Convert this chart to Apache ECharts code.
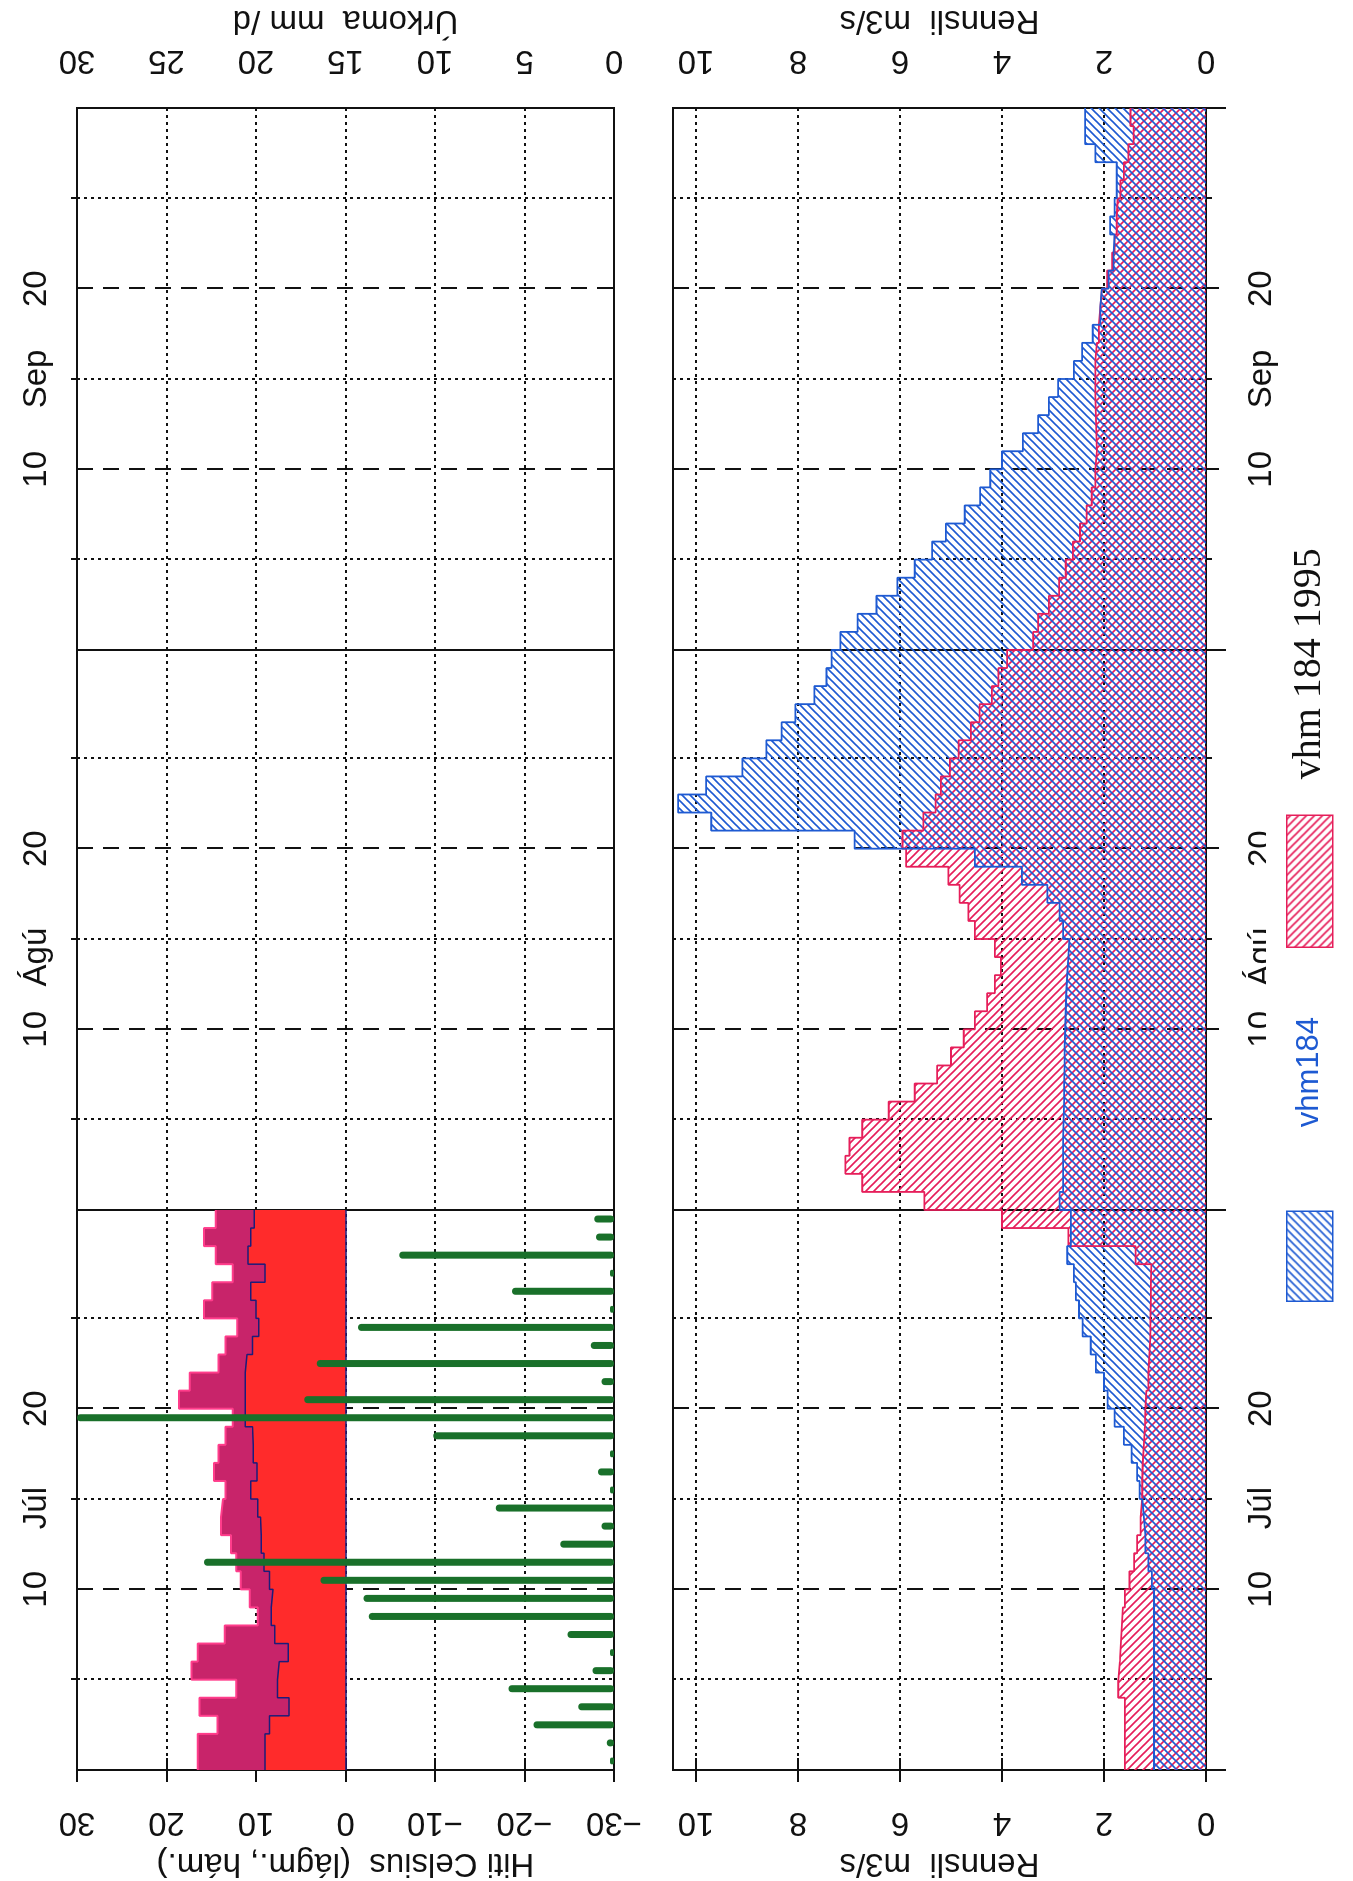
<!DOCTYPE html>
<html>
<head>
<meta charset="utf-8">
<script src="https://cdn.jsdelivr.net/npm/echarts@6/dist/echarts.min.js"></script>
<style>
  html, body { margin: 0; padding: 0; background: #fff; overflow: hidden; }
  /* the chart is laid out landscape and turned a quarter left, like the scanned page */
  #chart {
    position: absolute; left: 0; top: 0;
    width: 1881px; height: 1353px;
    transform-origin: 0 0;
    transform: translateY(1881px) rotate(-90deg);
  }
</style>
</head>
<body>
<div id="chart"></div>
<script>
// time in days from 1 July (0) to 1 October (92)
const monthLines = [0, 31, 62, 92];
const tenDayLines = [10, 20, 41, 51, 72, 82];
const fiveDayLines = [5, 15, 25, 36, 46, 56, 67, 77, 87];
const timeLabelPos = [10, 14.5, 20, 41, 45, 51, 72, 77, 82];
const timeLabels = ['10', 'Júl', '20', '10', 'Ágú', '20', '10', 'Sep', '20'];
const rennsliTicks = [0, 2, 4, 6, 8, 10];

// júlí: lágmarks- og hámarkshiti (°C) og úrkoma (mm/d)
const tempMin = [9.0, 9.0, 8.5, 6.3, 7.6, 7.4, 6.4, 7.9, 8.3, 8.1, 8.5, 9.1, 9.4, 9.5, 9.8,
  10.6, 9.9, 10.3, 10.4, 11.2, 11.2, 11.2, 11.0, 10.4, 9.7, 10.0, 10.6, 9.0, 10.9, 10.6, 10.2];
const tempMax = [16.5, 16.5, 14.3, 16.3, 12.2, 17.2, 16.5, 13.5, 9.8, 10.7, 11.7, 12.2, 12.8, 13.9, 13.7,
  13.4, 14.7, 14.2, 13.4, 12.6, 18.6, 17.4, 14.2, 13.4, 12.1, 15.8, 14.9, 12.6, 14.5, 15.8, 14.5];
const urkoma = [0, 0.4, 4.5, 2.0, 5.9, 1.2, 0, 2.6, 13.7, 14.0, 16.4, 22.9, 3.0, 0.7, 6.6,
  0, 0.9, 0, 10.1, 30.5, 17.3, 0.7, 16.6, 1.3, 14.3, 0, 5.7, 0, 12.0, 1.0, 1.1];

// rennsli m3/s, 1. júlí - 30. sept
const vhm184 = [1.02, 1.02, 1.02, 1.02, 1.02, 1.02, 1.02, 1.02, 1.02, 1.02, 1.06, 1.13, 1.19, 1.22, 1.25,
  1.30, 1.35, 1.46, 1.61, 1.79, 1.93, 2.00, 2.16, 2.26, 2.42, 2.49, 2.55, 2.59, 2.72, 2.65, 2.65,
  2.87, 2.80, 2.80, 2.80, 2.79, 2.78, 2.78, 2.77, 2.77, 2.76, 2.75, 2.74, 2.72, 2.70, 2.68,
  2.80, 2.87, 3.11, 3.61, 4.53, 6.89, 9.70, 10.35, 9.80, 9.09, 8.62, 8.32, 8.05, 7.68, 7.44, 7.34,
  7.17, 6.83, 6.46, 6.05, 5.71, 5.37, 5.10, 4.73, 4.43, 4.23, 4.00, 3.59, 3.29, 3.08, 2.90,
  2.59, 2.43, 2.22, 2.07, 2.04, 1.91, 1.81, 1.79, 1.88, 1.79, 1.75, 1.75, 2.17, 2.37, 2.37];
const vhm184_1995 = [1.59, 1.59, 1.59, 1.59, 1.72, 1.69, 1.67, 1.65, 1.63, 1.59, 1.50, 1.41, 1.35, 1.28, 1.25,
  1.25, 1.24, 1.22, 1.20, 1.19, 1.17, 1.13, 1.11, 1.09, 1.09, 1.08, 1.08, 1.07, 1.38, 2.70, 4.00,
  5.52, 6.74, 7.07, 6.99, 6.74, 6.22, 5.71, 5.27, 5.00, 4.75, 4.53, 4.29, 4.14, 4.02, 4.14,
  4.53, 4.66, 4.83, 5.05, 5.88, 5.95, 5.54, 5.30, 5.20, 5.02, 4.85, 4.61, 4.44, 4.20, 4.07, 3.90,
  3.39, 3.29, 3.08, 2.88, 2.75, 2.61, 2.47, 2.34, 2.24, 2.17, 2.14, 2.15, 2.16, 2.17, 2.17,
  2.17, 2.14, 2.10, 2.07, 2.04, 1.94, 1.84, 1.79, 1.75, 1.73, 1.68, 1.61, 1.52, 1.42, 1.48];

const ink = '#111';
const blue = '#1e5ad2';
const red = '#e61e5a';
const sans = 'Liberation Sans';

// daily values -> step points, last day held to its end
const stepData = vals => {
  const d = vals.map((v, i) => [i, v]);
  d.push([vals.length, vals[vals.length - 1]]);
  return d;
};

// diagonal hatching as a canvas pattern
const hatch = (color, slash) => {
  const c = document.createElement('canvas');
  c.width = 8; c.height = 8;
  const ctx = c.getContext('2d');
  ctx.strokeStyle = color;
  ctx.lineWidth = 1.6;
  ctx.beginPath();
  if (slash) {
    ctx.moveTo(-1, 9); ctx.lineTo(9, -1);
    ctx.moveTo(-1, 1); ctx.lineTo(1, -1);
    ctx.moveTo(7, 9); ctx.lineTo(9, 7);
  } else {
    ctx.moveTo(-1, -1); ctx.lineTo(9, 9);
    ctx.moveTo(7, -1); ctx.lineTo(9, 1);
    ctx.moveTo(-1, 7); ctx.lineTo(1, 9);
  }
  ctx.stroke();
  return { image: c, repeat: 'repeat' };
};
const bluePat = hatch(blue, true);
const redPat = hatch(red, false);

const font = { color: ink, fontFamily: sans, fontSize: 33 };
const minus = v => (v < 0 ? '\u2212' + (-v) : String(v));

const timeAxes = (gridIndex, position, margin) => {
  const base = { type: 'value', gridIndex, position, min: 0, max: 92, axisLine: { show: false } };
  return [
    {
      ...base,
      axisTick: { customValues: monthLines, length: 20, lineStyle: { color: ink, width: 2 } },
      splitLine: { show: true, lineStyle: { color: ink, width: 2, type: 'solid' } },
      axisLabel: {
        ...font, margin,
        customValues: timeLabelPos,
        formatter: v => timeLabels[timeLabelPos.indexOf(v)]
      }
    },
    {
      ...base,
      axisTick: { customValues: tenDayLines, length: 13, lineStyle: { color: ink, width: 2 } },
      splitLine: { show: true, lineStyle: { color: ink, width: 2, type: [16, 10] } },
      axisLabel: { show: false }
    },
    {
      ...base,
      axisTick: { customValues: fiveDayLines, length: 6, lineStyle: { color: ink, width: 2 } },
      splitLine: { show: true, lineStyle: { color: ink, width: 2, type: [3, 4] } },
      axisLabel: { show: false }
    }
  ];
};

const tick = { length: 12, lineStyle: { color: ink, width: 2 } };
const dotted = { show: true, lineStyle: { color: ink, width: 2, type: [3, 4] } };

const chart = echarts.init(document.getElementById('chart'), null, { width: 1881, height: 1353 });
chart.setOption({
  animation: false,
  backgroundColor: '#fff',
  grid: [
    { left: 111, top: 77, width: 1662, height: 537, show: true, borderColor: ink, borderWidth: 2, outerBoundsMode: 'none' },
    { left: 111, top: 673, width: 1662, height: 533, show: true, borderColor: ink, borderWidth: 2, outerBoundsMode: 'none' }
  ],
  xAxis: [...timeAxes(0, 'top', 24), ...timeAxes(1, 'bottom', 39)],
  yAxis: [
    {
      type: 'value', gridIndex: 0, position: 'left', min: -30, max: 30, interval: 10,
      name: 'Hiti Celsius  (lágm., hám.)', nameLocation: 'middle', nameRotate: 90, nameGap: 73,
      nameTextStyle: font,
      axisLine: { show: false }, axisTick: tick, splitLine: dotted,
      axisLabel: { ...font, rotate: 90, margin: 36, formatter: minus }
    },
    {
      type: 'value', gridIndex: 0, position: 'right', min: 0, max: 30, interval: 5,
      name: 'Úrkoma  mm /d', nameLocation: 'middle', nameRotate: 90, nameGap: 71,
      nameTextStyle: font,
      axisLine: { show: false }, axisTick: tick, splitLine: { show: false },
      axisLabel: { ...font, rotate: 90, margin: 31 }
    },
    {
      type: 'value', gridIndex: 1, position: 'left', min: 0, max: 10.45,
      name: 'Rennsli  m3/s', nameLocation: 'middle', nameRotate: 90, nameGap: 73,
      nameTextStyle: font,
      axisLine: { show: false },
      axisTick: { ...tick, customValues: rennsliTicks }, splitLine: dotted,
      axisLabel: { ...font, rotate: 90, margin: 36, customValues: rennsliTicks }
    },
    {
      type: 'value', gridIndex: 1, position: 'right', min: 0, max: 10.45,
      name: 'Rennsli  m3/s', nameLocation: 'middle', nameRotate: 90, nameGap: 71,
      nameTextStyle: font,
      axisLine: { show: false },
      axisTick: { ...tick, customValues: rennsliTicks }, splitLine: { show: false },
      axisLabel: { ...font, rotate: 90, margin: 31, customValues: rennsliTicks }
    }
  ],
  legend: [
    {
      left: 579, top: 1266, padding: [20, 82, 6, 0], backgroundColor: '#fff',
      itemWidth: 90, itemHeight: 46, selectedMode: false,
      data: [{
        name: 'vhm184', icon: 'rect',
        itemStyle: { color: bluePat, borderColor: blue, borderWidth: 1.5 },
        textStyle: { color: blue, fontFamily: sans, fontSize: 31, padding: [0, 0, 0, 79] }
      }]
    },
    {
      left: 933, top: 1266, padding: [20, 10, 6, 0], backgroundColor: '#fff',
      itemWidth: 132, itemHeight: 46, selectedMode: false,
      data: [{
        name: 'vhm 184 1995', icon: 'rect',
        itemStyle: { color: redPat, borderColor: red, borderWidth: 1.5 },
        textStyle: { color: ink, fontFamily: 'Liberation Serif', fontSize: 40, padding: [0, 0, 0, 31] }
      }]
    }
  ],
  series: [
    {
      name: 'hám.', type: 'line', xAxisIndex: 0, yAxisIndex: 0, step: 'end', symbol: 'none',
      data: stepData(tempMax),
      lineStyle: { color: '#ff3d8b', width: 2 },
      areaStyle: { color: '#c8246a', opacity: 1 }
    },
    {
      name: 'lágm.', type: 'line', xAxisIndex: 0, yAxisIndex: 0, step: 'end', symbol: 'none',
      data: stepData(tempMin),
      lineStyle: { color: '#1c1c7a', width: 1.5 },
      areaStyle: { color: '#ff2b2b', opacity: 1 },
      markLine: {
        silent: true, symbol: 'none', label: { show: false },
        lineStyle: { color: '#1c1c7a', width: 1.5, type: 'solid' },
        data: [[{ coord: [0, 0] }, { coord: [31, 0] }]]
      }
    },
    {
      name: 'Úrkoma', type: 'bar', xAxisIndex: 0, yAxisIndex: 1, z: 5,
      data: urkoma.map((v, i) => [i + 0.5, v]),
      barWidth: 7, barMinHeight: 4,
      itemStyle: { color: '#19702a', borderRadius: 3.5 }
    },
    {
      name: 'vhm 184 1995', type: 'line', xAxisIndex: 3, yAxisIndex: 2, step: 'end', symbol: 'none',
      data: stepData(vhm184_1995),
      itemStyle: { color: redPat, borderColor: red, borderWidth: 1.5 },
      lineStyle: { color: red, width: 1.8 },
      areaStyle: { color: redPat, opacity: 1 }
    },
    {
      name: 'vhm184', type: 'line', xAxisIndex: 3, yAxisIndex: 2, step: 'end', symbol: 'none',
      data: stepData(vhm184),
      itemStyle: { color: bluePat, borderColor: blue, borderWidth: 1.5 },
      lineStyle: { color: blue, width: 1.8 },
      areaStyle: { color: bluePat, opacity: 1 }
    }
  ]
});
</script>
</body>
</html>
